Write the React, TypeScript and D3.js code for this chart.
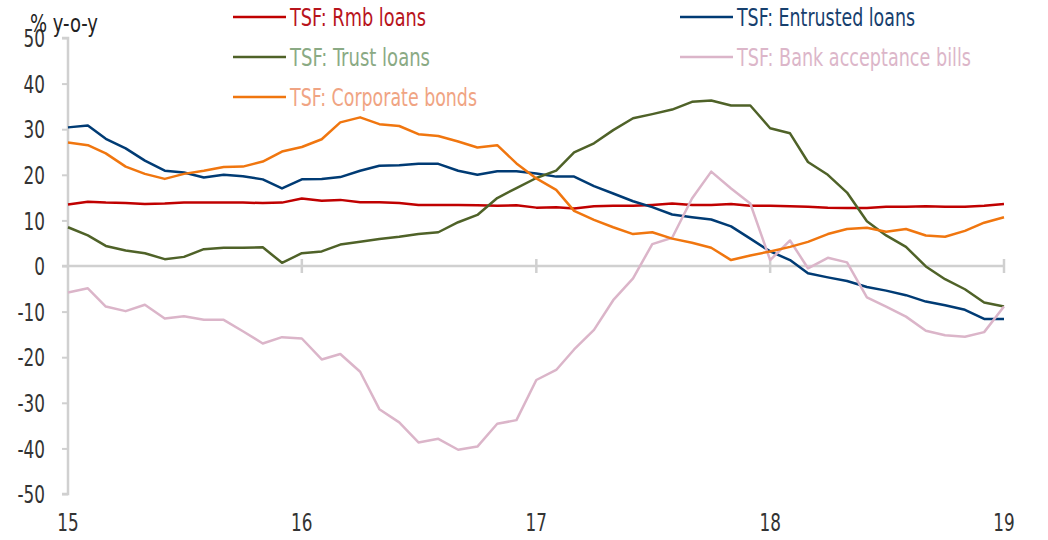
import React, { useEffect, useRef } from 'react';
import * as d3 from 'd3';

// monthly, Jan 2015 .. Jan 2019, % y-o-y
const rmbLoans = [13.5, 14.1, 13.9, 13.8, 13.6, 13.7, 13.9, 13.9, 13.9, 13.9, 13.8, 13.9, 14.8, 14.3, 14.5, 14.0, 14.0, 13.8, 13.4, 13.4, 13.4, 13.3, 13.2, 13.3, 12.8, 12.9, 12.6, 13.1, 13.2, 13.2, 13.4, 13.7, 13.4, 13.4, 13.6, 13.2, 13.2, 13.1, 13.0, 12.8, 12.7, 12.7, 13.0, 13.0, 13.1, 13.0, 13.0, 13.2, 13.6];
const entrustedLoans = [30.4, 30.8, 27.9, 25.8, 23.1, 20.9, 20.5, 19.4, 20.0, 19.7, 19.0, 17.0, 19.0, 19.1, 19.5, 20.9, 22.0, 22.1, 22.4, 22.4, 20.9, 20.0, 20.8, 20.8, 20.3, 19.6, 19.6, 17.5, 15.9, 14.2, 12.9, 11.3, 10.7, 10.2, 8.7, 6.0, 3.2, 1.3, -1.6, -2.5, -3.3, -4.6, -5.4, -6.4, -7.8, -8.6, -9.6, -11.6, -11.6];
const trustLoans = [8.5, 6.7, 4.4, 3.4, 2.8, 1.5, 2.0, 3.7, 4.0, 4.0, 4.1, 0.7, 2.8, 3.2, 4.7, 5.3, 5.9, 6.4, 7.0, 7.4, 9.6, 11.2, 14.9, 17.1, 19.3, 20.9, 24.9, 26.9, 29.8, 32.4, 33.3, 34.3, 36.0, 36.3, 35.2, 35.2, 30.2, 29.1, 22.8, 20.0, 16.1, 9.8, 6.7, 4.2, -0.1, -2.9, -5.1, -8.0, -8.9];
const bankBills = [-5.8, -4.9, -8.9, -9.9, -8.5, -11.5, -11.0, -11.8, -11.8, -14.3, -17.0, -15.6, -15.9, -20.5, -19.3, -23.2, -31.4, -34.3, -38.7, -37.9, -40.3, -39.6, -34.6, -33.8, -25.0, -22.8, -18.3, -14.0, -7.5, -2.7, 4.8, 6.2, 14.8, 20.7, 17.0, 13.7, 1.3, 5.6, -0.5, 1.8, 0.8, -6.9, -8.9, -11.1, -14.2, -15.2, -15.5, -14.5, -8.9];
const corporateBonds = [27.1, 26.5, 24.7, 21.8, 20.2, 19.1, 20.2, 20.9, 21.7, 21.8, 22.9, 25.1, 26.1, 27.8, 31.5, 32.6, 31.1, 30.7, 28.9, 28.5, 27.3, 26.0, 26.5, 22.5, 19.2, 16.7, 12.1, 10.1, 8.5, 7.0, 7.4, 6.0, 5.1, 4.0, 1.3, 2.3, 3.2, 4.2, 5.3, 7.0, 8.1, 8.4, 7.5, 8.1, 6.7, 6.4, 7.7, 9.5, 10.7];

const yTicks = [50, 40, 30, 20, 10, 0, -10, -20, -30, -40, -50];
const yearTicks = [2015, 2016, 2017, 2018, 2019];

const series = [
  { name: 'TSF: Rmb loans', values: rmbLoans, color: '#c00000', text: '#b8141c' },
  { name: 'TSF: Entrusted loans', values: entrustedLoans, color: '#003b74', text: '#17406e' },
  { name: 'TSF: Trust loans', values: trustLoans, color: '#4f6228', text: '#8aaa84' },
  { name: 'TSF: Bank acceptance bills', values: bankBills, color: '#dbb5c9', text: '#dcb6c9' },
  { name: 'TSF: Corporate bonds', values: corporateBonds, color: '#f0760f', text: '#f0a483' },
];

// legend placement: [x of line start, y, text width]
const legendPos = [
  [233, 17, 136],
  [680, 17, 178],
  [233, 57, 140],
  [680, 57, 234],
  [233, 97, 187],
];

const W = 1048;
const H = 540;
const FONT = "'Liberation Sans Narrow', 'DejaVu Sans Condensed', 'Arial Narrow', sans-serif";
const SX = 0.78; // squeeze for the narrow look of the tick labels

const App = () => {
  const svgRef = useRef<SVGSVGElement>(null);

  useEffect(() => {
    const svg = d3.select(svgRef.current);
    svg.selectAll('*').remove();

    const start = new Date(2015, 0, 1);
    const dates = rmbLoans.map((_, i) => d3.timeMonth.offset(start, i));

    const x = d3.scaleTime()
      .domain([start, new Date(2019, 0, 1)])
      .range([68, 1004]);
    const y = d3.scaleLinear().domain([-50, 50]).range([494, 38]);

    const grey = '#d0d0d0';

    // y axis
    const yAxis = svg.append('g')
      .attr('transform', 'translate(68,0)')
      .call(d3.axisLeft(y).tickValues(yTicks).tickSize(6).tickFormat(d => String(d)));
    yAxis.select('.domain').attr('stroke', grey).attr('stroke-width', 2.5).attr('d', `M-6,${y(50)}H0V${y(-50)}H-6`);
    yAxis.selectAll('.tick line').attr('stroke', grey).attr('stroke-width', 2);
    yAxis.selectAll('.tick text')
      .attr('x', -23 / SX)
      .attr('dy', '0.36em')
      .attr('transform', `scale(${SX},1)`)
      .attr('fill', '#333')
      .style('font-family', FONT)
      .style('font-size', '24px');

    // zero line with year ticks
    svg.append('line')
      .attr('x1', 62).attr('x2', x(new Date(2019, 0, 1)))
      .attr('y1', y(0)).attr('y2', y(0))
      .attr('stroke', grey).attr('stroke-width', 2.5);
    svg.selectAll('.yeartick')
      .data(yearTicks.slice(1))
      .enter()
      .append('line')
      .attr('x1', d => x(new Date(d, 0, 1)))
      .attr('x2', d => x(new Date(d, 0, 1)))
      .attr('y1', y(0) - 7).attr('y2', y(0) + 7)
      .attr('stroke', grey).attr('stroke-width', 2.5);

    // year labels at the bottom
    svg.selectAll('.yearlabel')
      .data(yearTicks)
      .enter()
      .append('text')
      .attr('x', d => x(new Date(d, 0, 1)) / SX)
      .attr('y', 531)
      .attr('transform', `scale(${SX},1)`)
      .attr('text-anchor', 'middle')
      .attr('fill', '#333')
      .style('font-family', FONT)
      .style('font-size', '24px')
      .text(d => String(d).slice(2));

    svg.append('text')
      .attr('x', 30).attr('y', 32)
      .attr('fill', '#222')
      .attr('textLength', 68)
      .attr('lengthAdjust', 'spacingAndGlyphs')
      .style('font-family', FONT)
      .style('font-size', '24px')
      .text('% y-o-y');

    const line = d3.line<number>()
      .x((_, i) => x(dates[i]))
      .y(d => y(d));

    series.forEach(s => {
      svg.append('path')
        .datum(s.values)
        .attr('fill', 'none')
        .attr('stroke', s.color)
        .attr('stroke-width', 2.5)
        .attr('stroke-linejoin', 'round')
        .attr('d', line);
    });

    // legend
    series.forEach((s, i) => {
      const [lx, ly, tw] = legendPos[i];
      svg.append('line')
        .attr('x1', lx).attr('x2', lx + 53)
        .attr('y1', ly).attr('y2', ly)
        .attr('stroke', s.color).attr('stroke-width', 2.5);
      svg.append('text')
        .attr('x', lx + 57).attr('y', ly + 9)
        .attr('fill', s.text)
        .attr('textLength', tw)
        .attr('lengthAdjust', 'spacingAndGlyphs')
        .style('font-family', FONT)
        .style('font-size', '25px')
        .text(s.name);
    });
  }, []);

  return (
    <div className="chart">
      <svg ref={svgRef} width={W} height={H} style={{ position: 'absolute', left: 0, top: 0, background: '#fff' }}></svg>
    </div>
  );
};

export default App;
